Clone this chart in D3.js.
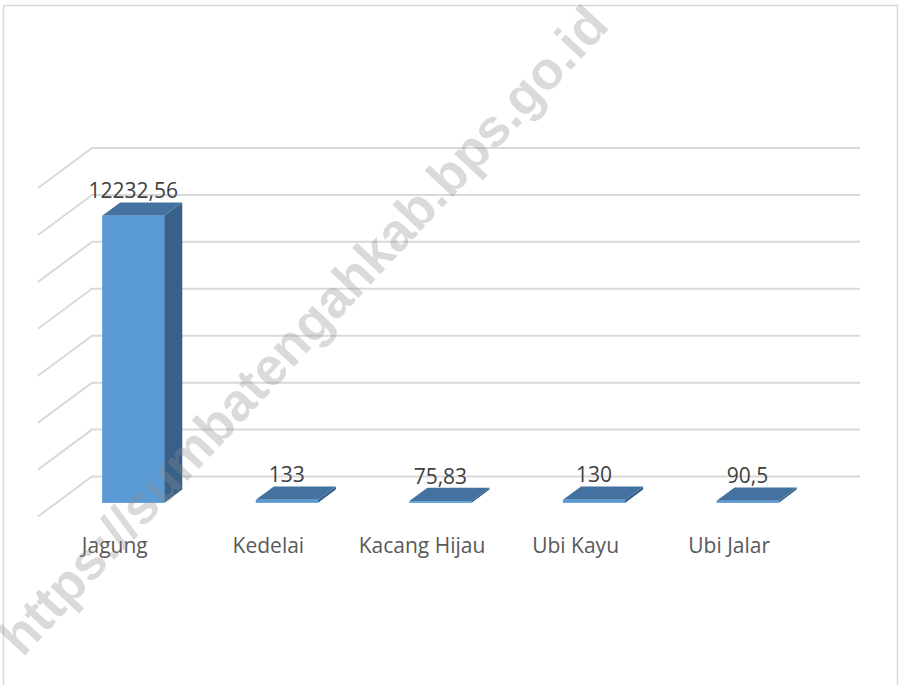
<!DOCTYPE html>
<html>
<head>
<meta charset="utf-8">
<script src="https://cdn.jsdelivr.net/npm/d3@7"></script>
<style>
  body { margin: 0; background: #fff; }
  svg { display: block; }
</style>
</head>
<body>
<script>
// data
var categories = ["Jagung", "Kedelai", "Kacang Hijau", "Ubi Kayu", "Ubi Jalar"];
var values = [12232.56, 133, 75.83, 130, 90.5];
var valueLabels = ["12232,56", "133", "75,83", "130", "90,5"];
var gridTicks = [0, 2000, 4000, 6000, 8000, 10000, 12000, 14000];
var watermark = "https://sumbatengahkab.bps.go.id";

var svgWidth = 902, svgHeight = 685;

// back wall of the 3d plot
var wall = { left: 92, right: 860, top: 148, bottom: 476.5 };
// floor depth vector (back -> front)
var depth = { dx: -54, dy: 40 };
// bar sits between these depth fractions
var barBack = 0.325, barFront = 0.66;

var svg = d3.select("body").append("svg")
    .attr("width", svgWidth)
    .attr("height", svgHeight);

// chart border
svg.append("rect")
    .attr("x", 3.5).attr("y", 5.5)
    .attr("width", 894).attr("height", 700)
    .attr("fill", "none")
    .attr("stroke", "#d9d9d9")
    .attr("stroke-width", 1.5);

var x = d3.scaleBand()
    .domain(categories)
    .range([wall.left, wall.right])
    .paddingInner(0)
    .paddingOuter(0);

var y = d3.scaleLinear()
    .domain([0, 14000])
    .range([wall.bottom, wall.top]);

// gridlines: back wall + slanted side-wall lines
var grid = svg.append("g").attr("class", "grid");
grid.selectAll("path")
    .data(gridTicks)
    .enter()
    .append("path")
    .attr("d", function(t) {
        var yy = y(t);
        return "M" + (wall.left + depth.dx) + "," + (yy + depth.dy) +
               "L" + wall.left + "," + yy + "L" + wall.right + "," + yy;
    })
    .attr("fill", "none")
    .attr("stroke", "#d9d9d9")
    .attr("stroke-width", 2);

// 3d bars
var barW = x.bandwidth() * 0.404;
var bars = svg.append("g").attr("class", "bars");

var data = categories.map(function(c, i) {
    return { cat: c, value: values[i], label: valueLabels[i] };
});

function pt(px, py) { return px + "," + py; }

data.forEach(function(d) {
    var cx = x(d.cat) + x.bandwidth() / 2;
    var h = wall.bottom - y(d.value);
    // front face
    var fx0 = cx - barW / 2 + depth.dx * barFront;
    var fx1 = fx0 + barW;
    var fyb = wall.bottom + depth.dy * barFront;
    var fyt = fyb - h;
    // back offset
    var bdx = depth.dx * (barBack - barFront);
    var bdy = depth.dy * (barBack - barFront);

    var g = bars.append("g");
    // side
    g.append("polygon")
        .attr("points", [pt(fx1, fyt), pt(fx1 + bdx, fyt + bdy), pt(fx1 + bdx, fyb + bdy), pt(fx1, fyb)].join(" "))
        .attr("fill", "#386189");
    // top
    g.append("polygon")
        .attr("points", [pt(fx0, fyt), pt(fx0 + bdx, fyt + bdy), pt(fx1 + bdx, fyt + bdy), pt(fx1, fyt)].join(" "))
        .attr("fill", "#4472a0");
    // front
    g.append("rect")
        .attr("x", fx0).attr("y", fyt)
        .attr("width", barW).attr("height", Math.max(h, 0.5))
        .attr("fill", "#5b9bd5");

    // value label
    svg.append("text")
        .attr("x", (fx0 + fx1) / 2)
        .attr("y", fyt + bdy - 4)
        .attr("text-anchor", "middle")
        .style("font-family", "'Open Sans', sans-serif")
        .style("font-size", "21px")
        .attr("fill", "#404040")
        .text(d.label);
});

// category labels along the front edge of the floor
svg.append("g")
    .selectAll("text")
    .data(categories)
    .enter()
    .append("text")
    .attr("x", function(c) { return x(c) + x.bandwidth() / 2 + depth.dx; })
    .attr("y", 553)
    .attr("text-anchor", "middle")
    .style("font-family", "'Open Sans', sans-serif")
    .style("font-size", "21px")
    .attr("fill", "#595959")
    .text(function(c) { return c; });

// watermark
svg.append("text")
    .attr("transform", "translate(303,330) rotate(-47)")
    .attr("text-anchor", "middle")
    .attr("dy", "0.35em")
    .style("font-family", "'Liberation Sans', Arial, sans-serif")
    .style("font-weight", "bold")
    .style("font-size", "53px")
    .attr("fill", "#8c8c8c")
    .attr("fill-opacity", 0.32)
    .text(watermark);
</script>
</body>
</html>
